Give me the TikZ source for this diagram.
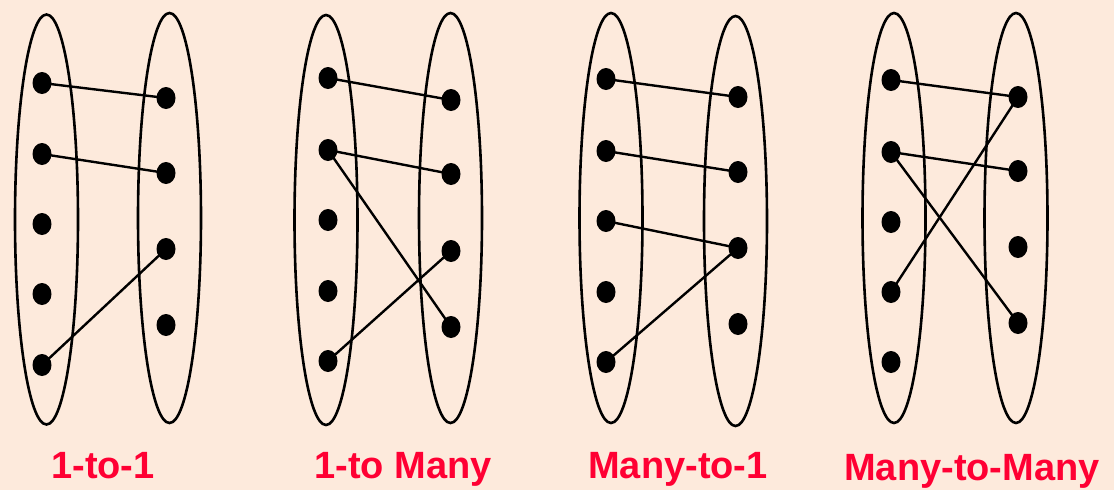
\documentclass[tikz,border=0pt]{standalone}
\usepackage{fontspec}
\setmainfont{Liberation Sans}
\usetikzlibrary{shapes.geometric}
\definecolor{bgc}{HTML}{FDEADC}
\definecolor{labred}{HTML}{FF0033}
\tikzset{
  setbox/.style={ellipse, draw=black, line width=2.6pt, minimum width=63pt, minimum height=410pt, inner sep=0pt},
  dotnode/.style={ellipse, fill=black, draw=none, minimum width=19pt, minimum height=22pt, inner sep=0pt},
  link/.style={line width=2.4pt, black},
  lab/.style={text=labred, font=\fontsize{38}{40}\selectfont\bfseries, anchor=base}
}
\begin{document}
\begin{tikzpicture}[x=1pt,y=-1pt]
\fill[bgc] (0,0) rectangle (1114,490);
\useasboundingbox (0,0) rectangle (1114,490);
% group 1
\node[setbox] (e1l) at (46.5,219.5) {};
\node[setbox] (e1r) at (169.5,218) {};
\foreach \i/\y in {1/83,2/154,3/224,4/294,5/365} \node[dotnode] (a\i) at (42,\y) {};
\foreach \i/\y in {1/98,2/173,3/249,4/325} \node[dotnode] (b\i) at (166,\y) {};
\draw[link] (a1.center) -- (b1.center);
\draw[link] (a2.center) -- (b2.center);
\draw[link] (a5.center) -- (b3.center);
\node[lab] (t1) at (103,478) {1-to-1};
% group 2
\node[setbox] (e2l) at (326,220) {};
\node[setbox] (e2r) at (450.5,218) {};
\foreach \i/\y in {1/78,2/150,3/220,4/291,5/361} \node[dotnode] (c\i) at (328,\y) {};
\foreach \i/\y in {1/100,2/174,3/251,4/327} \node[dotnode] (d\i) at (451,\y) {};
\draw[link] (c1.center) -- (d1.center);
\draw[link] (c2.center) -- (d2.center);
\draw[link] (c2.center) -- (d4.center);
\draw[link] (c5.center) -- (d3.center);
\node[lab] (t2) at (403,478) {1-to Many};
% group 3
\node[setbox] (e3l) at (611,218) {};
\node[setbox] (e3r) at (735.5,221) {};
\foreach \i/\y in {1/79,2/151,3/221,4/292,5/362} \node[dotnode] (f\i) at (606,\y) {};
\foreach \i/\y in {1/97,2/172,3/248,4/324} \node[dotnode] (g\i) at (738,\y) {};
\draw[link] (f1.center) -- (g1.center);
\draw[link] (f2.center) -- (g2.center);
\draw[link] (f3.center) -- (g3.center);
\draw[link] (f5.center) -- (g3.center);
\node[lab] (t3) at (678,478) {Many-to-1};
% group 4
\node[setbox] (e4l) at (894,218) {};
\node[setbox] (e4r) at (1016,218) {};
\foreach \i/\y in {1/80,2/152,3/222,4/292,5/362} \node[dotnode] (h\i) at (891,\y) {};
\foreach \i/\y in {1/97,2/171,3/247,4/323} \node[dotnode] (k\i) at (1018,\y) {};
\draw[link] (h1.center) -- (k1.center);
\draw[link] (h2.center) -- (k2.center);
\draw[link] (h2.center) -- (k4.center);
\draw[link] (h4.center) -- (k1.center);
\node[lab] (t4) at (972,480) {Many-to-Many};
\end{tikzpicture}
\end{document}
